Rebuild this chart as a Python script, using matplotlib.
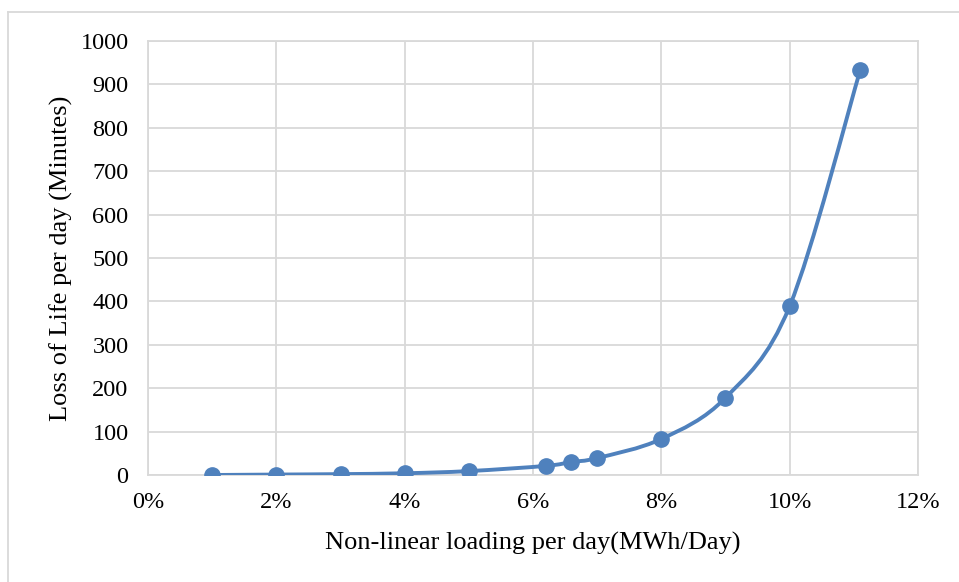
import numpy as np
import matplotlib
matplotlib.use('Agg')
import matplotlib.pyplot as plt
from matplotlib.path import Path
from matplotlib.patches import PathPatch
from matplotlib.lines import Line2D
from matplotlib.ticker import FuncFormatter

# data
loading_pct = [1.0, 2.0, 3.0, 4.0, 5.0, 6.2, 6.6, 7.0, 8.0, 9.0, 10.0, 11.1]
loss_of_life = [0, 1, 2, 4, 9, 21, 30, 39, 83, 178, 389, 933]

x_ticks = [0, 2, 4, 6, 8, 10, 12]
y_ticks = list(range(0, 1001, 100))

blue = '#4f81bd'
grid_col = '#d9d9d9'

plt.rcParams['font.family'] = ['Liberation Serif', 'DejaVu Serif']


def smooth_path(x, y):
    # excel-style smoothed line: catmull-rom segments as cubic beziers
    pts = np.column_stack([x, y]).astype(float)
    n = len(pts)
    verts = [pts[0]]
    codes = [Path.MOVETO]
    for i in range(n - 1):
        p0 = pts[i - 1] if i > 0 else pts[i]
        p1 = pts[i]
        p2 = pts[i + 1]
        p3 = pts[i + 2] if i + 2 < n else pts[i + 1]
        c1 = p1 + (p2 - p0) / 6.0
        c2 = p2 - (p3 - p1) / 6.0
        verts += [c1, c2, p2]
        codes += [Path.CURVE4] * 3
    return Path(verts, codes)


def main():
    fig = plt.figure(figsize=(9.59, 5.82), dpi=100)
    ax = fig.add_axes([148 / 959, 107 / 582, 770 / 959, 434 / 582])

    ax.set_xlim(0, 12)
    ax.set_ylim(0, 1000)
    ax.set_xticks(x_ticks)
    ax.set_yticks(y_ticks)
    ax.xaxis.set_major_formatter(FuncFormatter(lambda v, p: f'{v:.0f}%'))

    ax.grid(True, color=grid_col, linewidth=1.3)
    ax.set_axisbelow(True)
    for s in ax.spines.values():
        s.set_color(grid_col)
        s.set_linewidth(1.3)
    ax.tick_params(length=0, labelsize=17.5)
    ax.tick_params(axis='x', pad=12)
    ax.tick_params(axis='y', pad=14)

    # curve in data coords
    path = smooth_path(loading_pct, loss_of_life)
    ax.add_patch(PathPatch(path, facecolor='none', edgecolor=blue, linewidth=2.8,
                           capstyle='round', zorder=3))
    ax.plot(loading_pct, loss_of_life, 'o', color=blue, markersize=11, zorder=4)

    ax.set_xlabel('Non-linear loading per day(MWh/Day)', fontsize=19, labelpad=14)
    ax.set_ylabel('Loss of Life per day (Minutes)', fontsize=19, labelpad=5)

    # chart area border (cropped at right and bottom)
    fig.add_artist(Line2D([8 / 959, 1], [1 - 12 / 582, 1 - 12 / 582],
                          transform=fig.transFigure, color=grid_col, linewidth=1.3))
    fig.add_artist(Line2D([8 / 959, 8 / 959], [0, 1 - 12 / 582],
                          transform=fig.transFigure, color=grid_col, linewidth=1.3))

    fig.savefig('out.png', dpi=100)


if __name__ == '__main__':
    main()
